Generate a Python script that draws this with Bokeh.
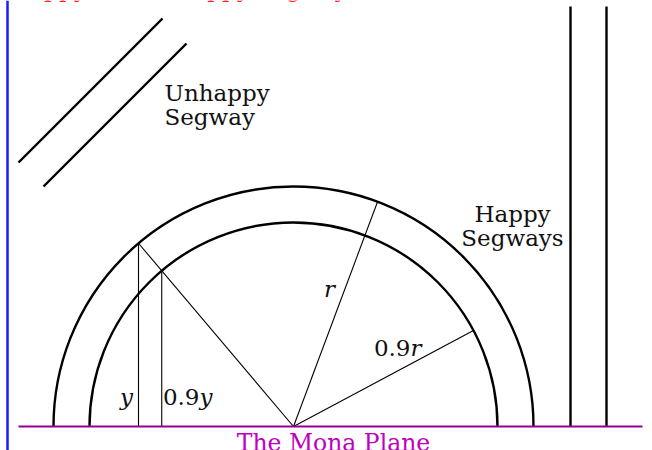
import math
from bokeh.plotting import figure
from bokeh.models import Range1d
from bokeh.core.properties import value
from bokeh.embed import file_html
from bokeh.resources import INLINE

# ---- geometry data (units: drawing units, origin at the centre of the arcs) ----
arc_radii = [240, 204]                 # outer "r", inner "0.9r"
plane_x = [-275, 349]                  # the Mona plane (y = 0)
plane_y = [0, 0]
wall_x = [-286, -286]                  # blue boundary line
wall_y = [-24, 426]
unhappy_x0 = [-275, -250]              # unhappy segway (two slanted lines)
unhappy_y0 = [264, 240]
unhappy_x1 = [-131, -107]
unhappy_y1 = [408, 383]
happy_x = [277, 313]                   # happy segways (two vertical lines)
happy_y0 = [0, 0]
happy_y1 = [420, 420]
r_angle_deg = 69.5                     # direction of radius r
r09_angle_deg = 28.1                   # direction of radius 0.9r
y_foot_x = -155                        # foot of the vertical "y"

# ---- text data ----
title_text = "Happy and Unhappy Segways"
label_unhappy = ["Unhappy", "Segway"]
label_happy = ["Happy", "Segways"]
plane_label = "The Mona Plane"

SERIF = value("DejaVu Serif")
FS = value("23px")
INK = "#111111"

p = figure(width=652, height=450, x_range=Range1d(-293, 359), y_range=Range1d(-24, 426),
           output_backend="svg", toolbar_location=None, min_border=0,
           x_axis_type=None, y_axis_type=None, outline_line_color=None,
           margin=(0, 0, 0, 0))
p.grid.visible = False
p.background_fill_color = "white"
p.border_fill_color = "white"

# blue boundary
p.line(wall_x, wall_y, line_color="#1a1aff", line_width=2.5)

# arcs
p.arc(x=[0, 0], y=[0, 0], radius=arc_radii, start_angle=0, end_angle=math.pi,
      line_color="black", line_width=2.4)

# unhappy segway
p.segment(x0=unhappy_x0, y0=unhappy_y0, x1=unhappy_x1, y1=unhappy_y1,
          line_color="black", line_width=2.4)
# happy segways
p.segment(x0=happy_x, y0=happy_y0, x1=happy_x, y1=happy_y1,
          line_color="black", line_width=2.4)

# radii
R, r09 = arc_radii
ra = math.radians(r_angle_deg)
rb = math.radians(r09_angle_deg)
p.segment(x0=[0, 0], y0=[0, 0],
          x1=[R * math.cos(ra), r09 * math.cos(rb)],
          y1=[R * math.sin(ra), r09 * math.sin(rb)],
          line_color="black", line_width=1.1)

# y and 0.9y construction
y_top = math.sqrt(R ** 2 - y_foot_x ** 2)
f = r09 / R
p.segment(x0=[y_foot_x, y_foot_x * f, y_foot_x], y0=[0, 0, y_top],
          x1=[y_foot_x, y_foot_x * f, 0], y1=[y_top, y_top * f, 0],
          line_color="black", line_width=1.1)

# plane
p.line(plane_x, plane_y, line_color="#930093", line_width=2.2)

# labels
p.text(x=[-129, -129], y=[334, 310], text=label_unhappy, text_font=SERIF,
       text_font_size=FS, text_align="left", text_baseline="alphabetic", text_color=INK)
p.text(x=[219, 219], y=[213, 189], text=label_happy, text_font=SERIF,
       text_font_size=FS, text_align="center", text_baseline="alphabetic", text_color=INK)

# math labels
p.text(x=[36], y=[138], text=["r"], text_font=SERIF, text_font_size=FS,
       text_font_style="italic", text_align="center", text_baseline="alphabetic", text_color=INK)
p.text(x=[117, -94], y=[79, 30], text=["0.9", "0.9"], text_font=SERIF, text_font_size=FS,
       text_align="right", text_baseline="alphabetic", text_color=INK)
p.text(x=[117, -94], y=[79, 30], text=["r", "y"], text_font=SERIF, text_font_size=FS,
       text_font_style="italic", text_align="left", text_baseline="alphabetic", text_color=INK)
p.text(x=[-167], y=[30], text=["y"], text_font=SERIF, text_font_size=FS,
       text_font_style="italic", text_align="center", text_baseline="alphabetic", text_color=INK)

p.text(x=[40], y=[-16], text=[plane_label], text_font=SERIF, text_font_size=value("23.5px"),
       text_align="center", text_baseline="alphabetic", text_color="#c000c0")

p.text(x=[-283], y=[438], text=[title_text], text_font=SERIF, text_font_size=FS,
       text_align="left", text_baseline="alphabetic", text_color="#ff2020")

open("out.html", "w").write(file_html(p, INLINE))
